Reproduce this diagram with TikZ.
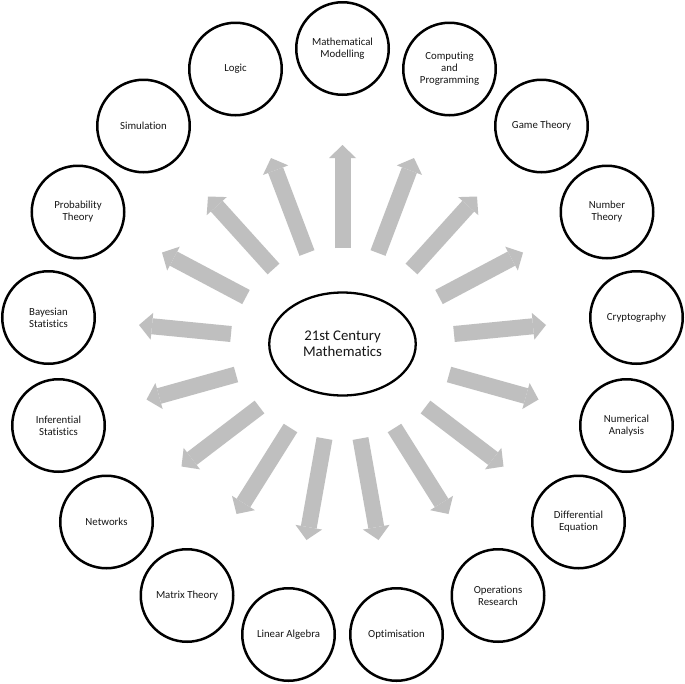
\documentclass[tikz,border=0pt]{standalone}
\usepackage{fontspec}
\setmainfont{Carlito}[Ligatures=CommonOff]
\usetikzlibrary{arrows.meta,shapes.geometric}
\definecolor{agray}{RGB}{191,191,191}
\definecolor{txt}{RGB}{22,22,22}
\tikzset{
  topic/.style={circle, draw=black, line width=2.5pt, minimum size=92.5pt, inner sep=0pt,
    align=center, text=txt, font=\fontsize{10.8}{12}\selectfont},
  hub/.style={ellipse, draw=black, line width=2.3pt, minimum width=146.5pt, minimum height=103pt,
    inner sep=0pt, align=center, text=txt, font=\fontsize{14.8}{16}\selectfont},
  blockarr/.style={draw=agray, line width=16pt,
    -{Triangle[length=13pt,width=27pt,line width=0pt]}}
}
\begin{document}
\begin{tikzpicture}[x=1pt,y=-1pt]
\useasboundingbox (0,0) rectangle (685,683);
\fill[white] (0,0) rectangle (685,683);

% hub
\node[hub] (hub) at (342.5,344) {21st Century\\Mathematics};

% topics
\node[topic] (mm)   at (342.5,48.5)  {Mathematical\\Modelling};
\node[topic] (comp) at (449.5,69)    {Computing\\and\\Programming};
\node[topic] (game) at (541.5,126)   {Game Theory};
\node[topic] (numt) at (607,212)     {Number\\Theory};
\node[topic] (cryp) at (636.5,317.5) {Cryptography};
\node[topic] (nuan) at (626.5,425.5) {Numerical\\Analysis};
\node[topic] (diff) at (578.5,522)   {Differential\\Equation};
\node[topic] (opre) at (498,595.5)   {Operations\\Research};
\node[topic] (opti) at (396.5,634.5) {Optimisation};
\node[topic] (lina) at (288.5,634.5) {Linear Algebra};
\node[topic] (matr) at (187,595.5)   {Matrix Theory};
\node[topic] (netw) at (106.5,522)   {Networks};
\node[topic] (infe) at (58.5,425.5)  {Inferential\\Statistics};
\node[topic] (baye) at (48.5,317.5)  {Bayesian\\Statistics};
\node[topic] (prob) at (78,212)      {Probability\\Theory};
\node[topic] (simu) at (143.5,126)   {Simulation};
\node[topic] (logi) at (235.5,69)    {Logic};

% arrow tails (t) and tips (h)
\coordinate (t-mm)   at (342.5,248);   \coordinate (h-mm)   at (342.5,145);
\coordinate (t-logi) at (307,253);     \coordinate (h-logi) at (271,158);
\coordinate (t-comp) at (378,253);     \coordinate (h-comp) at (414,158);
\coordinate (t-simu) at (273.5,269);   \coordinate (h-simu) at (208,196.5);
\coordinate (t-game) at (411.5,269);   \coordinate (h-game) at (477,196.5);
\coordinate (t-prob) at (246,297);     \coordinate (h-prob) at (162,252.5);
\coordinate (t-numt) at (439,297);     \coordinate (h-numt) at (523,252.5);
\coordinate (t-baye) at (231,334);     \coordinate (h-baye) at (139,325);
\coordinate (t-cryp) at (454,334);     \coordinate (h-cryp) at (546,325);
\coordinate (t-infe) at (236,374.5);   \coordinate (h-infe) at (146.5,399.5);
\coordinate (t-nuan) at (449,374.5);   \coordinate (h-nuan) at (538.5,399.5);
\coordinate (t-netw) at (259.5,407);   \coordinate (h-netw) at (181.5,466.5);
\coordinate (t-diff) at (425.5,407);   \coordinate (h-diff) at (503.5,466.5);
\coordinate (t-matr) at (290.5,428);   \coordinate (h-matr) at (236.5,514);
\coordinate (t-opre) at (394.5,428);   \coordinate (h-opre) at (448.5,514);
\coordinate (t-lina) at (324.5,438.5); \coordinate (h-lina) at (306.5,540);
\coordinate (t-opti) at (360.5,438.5); \coordinate (h-opti) at (378.5,540);

\foreach \k in {mm,logi,comp,simu,game,prob,numt,baye,cryp,infe,nuan,netw,diff,matr,opre,lina,opti}
  \draw[blockarr] (t-\k) -- (h-\k);
\end{tikzpicture}
\end{document}
